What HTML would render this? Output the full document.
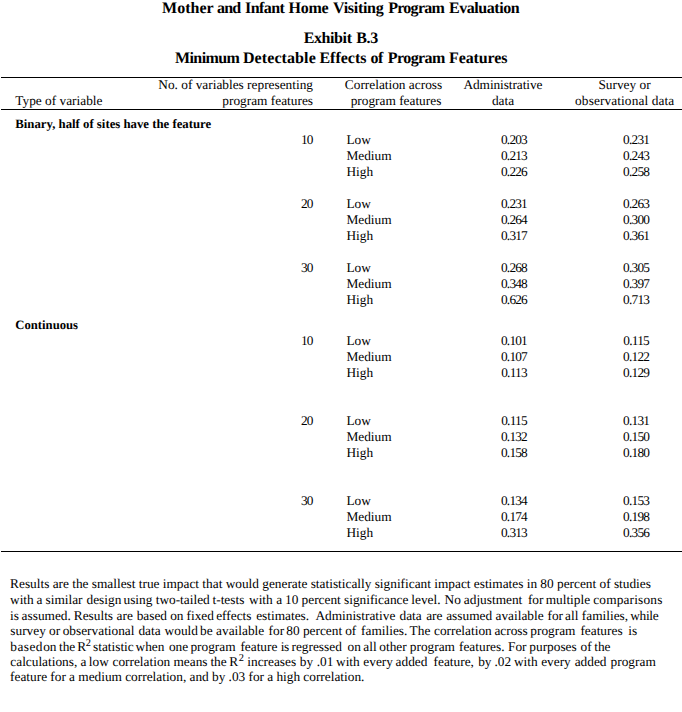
<!DOCTYPE html>
<html><head><meta charset="utf-8"><title>Exhibit B.3</title>
<style>
html,body{margin:0;padding:0;background:#fff;}
body{width:682px;height:712px;position:relative;overflow:hidden;font-family:"Liberation Serif",serif;color:#000;text-rendering:geometricPrecision;}
.t{position:absolute;white-space:pre;line-height:1;margin:0;padding:0;}
.b{font-weight:bold;}
.r{position:absolute;left:1px;width:681px;height:1px;background:#000;}
sup{font-size:9.3px;line-height:0;vertical-align:3.7px;}
</style></head><body>
<div class="r" style="top:77px"></div>
<div class="r" style="top:109px"></div>
<div class="r" style="top:551px"></div>
<div class="t b" style="top:0.60px;font-size:16px;left:162.1px;letter-spacing:0.0px;">Mother</div>
<div class="t b" style="top:0.60px;font-size:16px;left:217.0px;letter-spacing:-0.8px;">and</div>
<div class="t b" style="top:0.60px;font-size:16px;left:245.1px;letter-spacing:-0.57px;">Infant</div>
<div class="t b" style="top:0.60px;font-size:16px;left:288.6px;letter-spacing:-0.3px;">Home</div>
<div class="t b" style="top:0.60px;font-size:16px;left:333.0px;letter-spacing:-0.3px;">Visiting</div>
<div class="t b" style="top:0.60px;font-size:16px;left:388.2px;letter-spacing:-0.72px;">Program</div>
<div class="t b" style="top:0.60px;font-size:16px;left:449.0px;letter-spacing:-0.45px;">Evaluation</div>
<div class="t b" style="top:31.10px;font-size:16px;left:303.7px;letter-spacing:-0.4px;">Exhibit</div>
<div class="t b" style="top:31.10px;font-size:16px;left:356.2px;letter-spacing:-0.3px;">B.3</div>
<div class="t b" style="top:50.80px;font-size:16px;left:175.0px;letter-spacing:-0.6px;">Minimum</div>
<div class="t b" style="top:50.80px;font-size:16px;left:242.9px;letter-spacing:0.1px;">Detectable</div>
<div class="t b" style="top:50.80px;font-size:16px;left:319.4px;letter-spacing:0.0px;">Effects</div>
<div class="t b" style="top:50.80px;font-size:16px;left:370.6px;letter-spacing:-0.6px;">of</div>
<div class="t b" style="top:50.80px;font-size:16px;left:387.8px;letter-spacing:-0.58px;">Program</div>
<div class="t b" style="top:50.80px;font-size:16px;left:449.0px;letter-spacing:-0.12px;">Features</div>
<div class="t" style="top:77.84px;font-size:13.33px;right:369px;">No. of variables representing</div>
<div class="t" style="top:93.84px;font-size:13.33px;right:369px;">program features</div>
<div class="t" style="top:93.84px;font-size:13.33px;left:15.3px;">Type of variable</div>
<div class="t" style="top:77.84px;font-size:13.33px;left:93.5px;width:600px;text-align:center;">Correlation across</div>
<div class="t" style="top:93.84px;font-size:13.33px;left:96px;width:600px;text-align:center;">program features</div>
<div class="t" style="top:77.84px;font-size:13.33px;left:202.89999999999998px;width:600px;text-align:center;letter-spacing:-0.08px;">Administrative</div>
<div class="t" style="top:93.84px;font-size:13.33px;left:203px;width:600px;text-align:center;">data</div>
<div class="t" style="top:77.84px;font-size:13.33px;left:324.5px;width:600px;text-align:center;">Survey or</div>
<div class="t" style="top:93.84px;font-size:13.33px;left:324.70000000000005px;width:600px;text-align:center;letter-spacing:0.1px;">observational data</div>
<div class="t b" style="top:118.01px;font-size:12.77px;left:15.3px;">Binary, half of sites have the feature</div>
<div class="t b" style="top:319.06px;font-size:12.7px;left:15.3px;">Continuous</div>
<div class="t" style="top:132.84px;font-size:13.33px;right:369.4px;letter-spacing:-0.9px;">10</div>
<div class="t" style="top:132.84px;font-size:13.33px;left:346.4px;">Low</div>
<div class="t" style="top:132.84px;font-size:13.33px;left:214.0px;width:600px;text-align:center;letter-spacing:-0.8px;">0.203</div>
<div class="t" style="top:132.84px;font-size:13.33px;left:336.1px;width:600px;text-align:center;letter-spacing:-0.75px;">0.231</div>
<div class="t" style="top:148.84px;font-size:13.33px;left:346.4px;">Medium</div>
<div class="t" style="top:148.84px;font-size:13.33px;left:214.0px;width:600px;text-align:center;letter-spacing:-0.8px;">0.213</div>
<div class="t" style="top:148.84px;font-size:13.33px;left:336.1px;width:600px;text-align:center;letter-spacing:-0.75px;">0.243</div>
<div class="t" style="top:164.84px;font-size:13.33px;left:346.4px;">High</div>
<div class="t" style="top:164.84px;font-size:13.33px;left:214.0px;width:600px;text-align:center;letter-spacing:-0.8px;">0.226</div>
<div class="t" style="top:164.84px;font-size:13.33px;left:336.1px;width:600px;text-align:center;letter-spacing:-0.75px;">0.258</div>
<div class="t" style="top:196.84px;font-size:13.33px;right:369.4px;letter-spacing:-0.9px;">20</div>
<div class="t" style="top:196.84px;font-size:13.33px;left:346.4px;">Low</div>
<div class="t" style="top:196.84px;font-size:13.33px;left:214.0px;width:600px;text-align:center;letter-spacing:-0.8px;">0.231</div>
<div class="t" style="top:196.84px;font-size:13.33px;left:336.1px;width:600px;text-align:center;letter-spacing:-0.75px;">0.263</div>
<div class="t" style="top:212.84px;font-size:13.33px;left:346.4px;">Medium</div>
<div class="t" style="top:212.84px;font-size:13.33px;left:214.0px;width:600px;text-align:center;letter-spacing:-0.8px;">0.264</div>
<div class="t" style="top:212.84px;font-size:13.33px;left:336.1px;width:600px;text-align:center;letter-spacing:-0.75px;">0.300</div>
<div class="t" style="top:228.84px;font-size:13.33px;left:346.4px;">High</div>
<div class="t" style="top:228.84px;font-size:13.33px;left:214.0px;width:600px;text-align:center;letter-spacing:-0.8px;">0.317</div>
<div class="t" style="top:228.84px;font-size:13.33px;left:336.1px;width:600px;text-align:center;letter-spacing:-0.75px;">0.361</div>
<div class="t" style="top:260.84px;font-size:13.33px;right:369.4px;letter-spacing:-0.9px;">30</div>
<div class="t" style="top:260.84px;font-size:13.33px;left:346.4px;">Low</div>
<div class="t" style="top:260.84px;font-size:13.33px;left:214.0px;width:600px;text-align:center;letter-spacing:-0.8px;">0.268</div>
<div class="t" style="top:260.84px;font-size:13.33px;left:336.1px;width:600px;text-align:center;letter-spacing:-0.75px;">0.305</div>
<div class="t" style="top:276.84px;font-size:13.33px;left:346.4px;">Medium</div>
<div class="t" style="top:276.84px;font-size:13.33px;left:214.0px;width:600px;text-align:center;letter-spacing:-0.8px;">0.348</div>
<div class="t" style="top:276.84px;font-size:13.33px;left:336.1px;width:600px;text-align:center;letter-spacing:-0.75px;">0.397</div>
<div class="t" style="top:292.84px;font-size:13.33px;left:346.4px;">High</div>
<div class="t" style="top:292.84px;font-size:13.33px;left:214.0px;width:600px;text-align:center;letter-spacing:-0.8px;">0.626</div>
<div class="t" style="top:292.84px;font-size:13.33px;left:336.1px;width:600px;text-align:center;letter-spacing:-0.75px;">0.713</div>
<div class="t" style="top:333.84px;font-size:13.33px;right:369.4px;letter-spacing:-0.9px;">10</div>
<div class="t" style="top:333.84px;font-size:13.33px;left:346.4px;">Low</div>
<div class="t" style="top:333.84px;font-size:13.33px;left:214.0px;width:600px;text-align:center;letter-spacing:-0.8px;">0.101</div>
<div class="t" style="top:333.84px;font-size:13.33px;left:336.1px;width:600px;text-align:center;letter-spacing:-0.75px;">0.115</div>
<div class="t" style="top:349.84px;font-size:13.33px;left:346.4px;">Medium</div>
<div class="t" style="top:349.84px;font-size:13.33px;left:214.0px;width:600px;text-align:center;letter-spacing:-0.8px;">0.107</div>
<div class="t" style="top:349.84px;font-size:13.33px;left:336.1px;width:600px;text-align:center;letter-spacing:-0.75px;">0.122</div>
<div class="t" style="top:365.84px;font-size:13.33px;left:346.4px;">High</div>
<div class="t" style="top:365.84px;font-size:13.33px;left:214.0px;width:600px;text-align:center;letter-spacing:-0.8px;">0.113</div>
<div class="t" style="top:365.84px;font-size:13.33px;left:336.1px;width:600px;text-align:center;letter-spacing:-0.75px;">0.129</div>
<div class="t" style="top:413.84px;font-size:13.33px;right:369.4px;letter-spacing:-0.9px;">20</div>
<div class="t" style="top:413.84px;font-size:13.33px;left:346.4px;">Low</div>
<div class="t" style="top:413.84px;font-size:13.33px;left:214.0px;width:600px;text-align:center;letter-spacing:-0.8px;">0.115</div>
<div class="t" style="top:413.84px;font-size:13.33px;left:336.1px;width:600px;text-align:center;letter-spacing:-0.75px;">0.131</div>
<div class="t" style="top:429.84px;font-size:13.33px;left:346.4px;">Medium</div>
<div class="t" style="top:429.84px;font-size:13.33px;left:214.0px;width:600px;text-align:center;letter-spacing:-0.8px;">0.132</div>
<div class="t" style="top:429.84px;font-size:13.33px;left:336.1px;width:600px;text-align:center;letter-spacing:-0.75px;">0.150</div>
<div class="t" style="top:445.84px;font-size:13.33px;left:346.4px;">High</div>
<div class="t" style="top:445.84px;font-size:13.33px;left:214.0px;width:600px;text-align:center;letter-spacing:-0.8px;">0.158</div>
<div class="t" style="top:445.84px;font-size:13.33px;left:336.1px;width:600px;text-align:center;letter-spacing:-0.75px;">0.180</div>
<div class="t" style="top:493.84px;font-size:13.33px;right:369.4px;letter-spacing:-0.9px;">30</div>
<div class="t" style="top:493.84px;font-size:13.33px;left:346.4px;">Low</div>
<div class="t" style="top:493.84px;font-size:13.33px;left:214.0px;width:600px;text-align:center;letter-spacing:-0.8px;">0.134</div>
<div class="t" style="top:493.84px;font-size:13.33px;left:336.1px;width:600px;text-align:center;letter-spacing:-0.75px;">0.153</div>
<div class="t" style="top:509.84px;font-size:13.33px;left:346.4px;">Medium</div>
<div class="t" style="top:509.84px;font-size:13.33px;left:214.0px;width:600px;text-align:center;letter-spacing:-0.8px;">0.174</div>
<div class="t" style="top:509.84px;font-size:13.33px;left:336.1px;width:600px;text-align:center;letter-spacing:-0.75px;">0.198</div>
<div class="t" style="top:525.84px;font-size:13.33px;left:346.4px;">High</div>
<div class="t" style="top:525.84px;font-size:13.33px;left:214.0px;width:600px;text-align:center;letter-spacing:-0.8px;">0.313</div>
<div class="t" style="top:525.84px;font-size:13.33px;left:336.1px;width:600px;text-align:center;letter-spacing:-0.75px;">0.356</div>
<div class="t" style="top:576.84px;font-size:13.33px;left:10.1px;word-spacing:-0.035px;">Results are the smallest true impact that would generate statistically significant impact estimates in 80 percent of studies</div>
<div class="t" style="top:592.84px;font-size:13.33px;left:10.0px;">with</div>
<div class="t" style="top:592.84px;font-size:13.33px;left:36.6px;">a</div>
<div class="t" style="top:592.84px;font-size:13.33px;left:45.5px;">similar</div>
<div class="t" style="top:592.84px;font-size:13.33px;left:86.5px;">design</div>
<div class="t" style="top:592.84px;font-size:13.33px;left:123.5px;">using</div>
<div class="t" style="top:592.84px;font-size:13.33px;left:155.7px;">two-tailed</div>
<div class="t" style="top:592.84px;font-size:13.33px;left:212.5px;">t-tests</div>
<div class="t" style="top:592.84px;font-size:13.33px;left:249.0px;">with</div>
<div class="t" style="top:592.84px;font-size:13.33px;left:276.2px;">a</div>
<div class="t" style="top:592.84px;font-size:13.33px;left:285.1px;">10</div>
<div class="t" style="top:592.84px;font-size:13.33px;left:301.6px;">percent</div>
<div class="t" style="top:592.84px;font-size:13.33px;left:344.0px;">significance</div>
<div class="t" style="top:592.84px;font-size:13.33px;left:411.3px;">level.</div>
<div class="t" style="top:592.84px;font-size:13.33px;left:444.5px;">No</div>
<div class="t" style="top:592.84px;font-size:13.33px;left:463.8px;">adjustment</div>
<div class="t" style="top:592.84px;font-size:13.33px;left:527.9px;">for</div>
<div class="t" style="top:592.84px;font-size:13.33px;left:545.7px;">multiple</div>
<div class="t" style="top:592.84px;font-size:13.33px;left:593.2px;letter-spacing:0.18px;">comparisons</div>
<div class="t" style="top:608.84px;font-size:13.33px;left:10.0px;">is</div>
<div class="t" style="top:608.84px;font-size:13.33px;left:21.6px;">assumed.</div>
<div class="t" style="top:608.84px;font-size:13.33px;left:73.8px;">Results</div>
<div class="t" style="top:608.84px;font-size:13.33px;left:116.6px;">are</div>
<div class="t" style="top:608.84px;font-size:13.33px;left:136.7px;">based</div>
<div class="t" style="top:608.84px;font-size:13.33px;left:170.2px;">on</div>
<div class="t" style="top:608.84px;font-size:13.33px;left:186.5px;">fixed</div>
<div class="t" style="top:608.84px;font-size:13.33px;left:216.2px;">effects</div>
<div class="t" style="top:608.84px;font-size:13.33px;left:256.2px;">estimates.</div>
<div class="t" style="top:608.84px;font-size:13.33px;left:315.4px;">Administrative</div>
<div class="t" style="top:608.84px;font-size:13.33px;left:399.5px;">data</div>
<div class="t" style="top:608.84px;font-size:13.33px;left:426.2px;">are</div>
<div class="t" style="top:608.84px;font-size:13.33px;left:446.2px;">assumed</div>
<div class="t" style="top:608.84px;font-size:13.33px;left:495.5px;">available</div>
<div class="t" style="top:608.84px;font-size:13.33px;left:547.5px;">for</div>
<div class="t" style="top:608.84px;font-size:13.33px;left:565.1px;">all</div>
<div class="t" style="top:608.84px;font-size:13.33px;left:581.8px;">families,</div>
<div class="t" style="top:608.84px;font-size:13.33px;left:630.2px;letter-spacing:-0.3px;">while</div>
<div class="t" style="top:623.84px;font-size:13.33px;left:10.3px;">survey</div>
<div class="t" style="top:623.84px;font-size:13.33px;left:49.0px;">or</div>
<div class="t" style="top:623.84px;font-size:13.33px;left:62.7px;">observational</div>
<div class="t" style="top:623.84px;font-size:13.33px;left:138.4px;">data</div>
<div class="t" style="top:623.84px;font-size:13.33px;left:164.6px;">would</div>
<div class="t" style="top:623.84px;font-size:13.33px;left:200.1px;">be</div>
<div class="t" style="top:623.84px;font-size:13.33px;left:216.1px;">available</div>
<div class="t" style="top:623.84px;font-size:13.33px;left:268.6px;">for</div>
<div class="t" style="top:623.84px;font-size:13.33px;left:286.3px;">80</div>
<div class="t" style="top:623.84px;font-size:13.33px;left:302.9px;">percent</div>
<div class="t" style="top:623.84px;font-size:13.33px;left:345.2px;">of</div>
<div class="t" style="top:623.84px;font-size:13.33px;left:361.1px;">families.</div>
<div class="t" style="top:623.84px;font-size:13.33px;left:409.6px;">The</div>
<div class="t" style="top:623.84px;font-size:13.33px;left:434.0px;">correlation</div>
<div class="t" style="top:623.84px;font-size:13.33px;left:494.4px;">across</div>
<div class="t" style="top:623.84px;font-size:13.33px;left:530.3px;">program</div>
<div class="t" style="top:623.84px;font-size:13.33px;left:580.4px;">features</div>
<div class="t" style="top:623.84px;font-size:13.33px;left:628.2px;">is</div>
<div class="t" style="top:639.84px;font-size:13.33px;left:10.3px;letter-spacing:0.45px;">based</div>
<div class="t" style="top:639.84px;font-size:13.33px;left:43.2px;">on</div>
<div class="t" style="top:639.84px;font-size:13.33px;left:59.0px;">the</div>
<div class="t" style="top:639.84px;font-size:13.33px;left:77.3px;">R</div>
<div class="t" style="top:639.39px;font-size:10.4px;left:85.8px;">2</div>
<div class="t" style="top:639.84px;font-size:13.33px;left:93.0px;">statistic</div>
<div class="t" style="top:639.84px;font-size:13.33px;left:135.5px;">when</div>
<div class="t" style="top:639.84px;font-size:13.33px;left:168.9px;">one</div>
<div class="t" style="top:639.84px;font-size:13.33px;left:190.4px;">program</div>
<div class="t" style="top:639.84px;font-size:13.33px;left:240.4px;">feature</div>
<div class="t" style="top:639.84px;font-size:13.33px;left:280.8px;letter-spacing:-0.5px;">is</div>
<div class="t" style="top:639.84px;font-size:13.33px;left:291.5px;">regressed</div>
<div class="t" style="top:639.84px;font-size:13.33px;left:347.5px;">on</div>
<div class="t" style="top:639.84px;font-size:13.33px;left:363.3px;">all</div>
<div class="t" style="top:639.84px;font-size:13.33px;left:379.3px;">other</div>
<div class="t" style="top:639.84px;font-size:13.33px;left:409.8px;">program</div>
<div class="t" style="top:639.84px;font-size:13.33px;left:459.0px;">features.</div>
<div class="t" style="top:639.84px;font-size:13.33px;left:508.0px;">For</div>
<div class="t" style="top:639.84px;font-size:13.33px;left:529.3px;">purposes</div>
<div class="t" style="top:639.84px;font-size:13.33px;left:580.5px;">of</div>
<div class="t" style="top:639.84px;font-size:13.33px;left:594.2px;">the</div>
<div class="t" style="top:654.84px;font-size:13.33px;left:10.3px;">calculations,</div>
<div class="t" style="top:654.84px;font-size:13.33px;left:80.4px;">a</div>
<div class="t" style="top:654.84px;font-size:13.33px;left:88.8px;">low</div>
<div class="t" style="top:654.84px;font-size:13.33px;left:112.5px;">correlation</div>
<div class="t" style="top:654.84px;font-size:13.33px;left:173.5px;">means</div>
<div class="t" style="top:654.84px;font-size:13.33px;left:210.4px;">the</div>
<div class="t" style="top:654.84px;font-size:13.33px;left:229.3px;">R</div>
<div class="t" style="top:654.39px;font-size:10.4px;left:238.70000000000002px;">2</div>
<div class="t" style="top:654.84px;font-size:13.33px;left:247.3px;">increases</div>
<div class="t" style="top:654.84px;font-size:13.33px;left:299.8px;">by</div>
<div class="t" style="top:654.84px;font-size:13.33px;left:316.7px;">.01</div>
<div class="t" style="top:654.84px;font-size:13.33px;left:336.0px;">with</div>
<div class="t" style="top:654.84px;font-size:13.33px;left:363.3px;">every</div>
<div class="t" style="top:654.84px;font-size:13.33px;left:395.6px;">added</div>
<div class="t" style="top:654.84px;font-size:13.33px;left:433.6px;">feature,</div>
<div class="t" style="top:654.84px;font-size:13.33px;left:478.2px;">by</div>
<div class="t" style="top:654.84px;font-size:13.33px;left:494.5px;">.02</div>
<div class="t" style="top:654.84px;font-size:13.33px;left:513.9px;">with</div>
<div class="t" style="top:654.84px;font-size:13.33px;left:541.2px;">every</div>
<div class="t" style="top:654.84px;font-size:13.33px;left:574.7px;">added</div>
<div class="t" style="top:654.84px;font-size:13.33px;left:610.6px;">program</div>
<div class="t" style="top:669.84px;font-size:13.33px;left:10.1px;word-spacing:-0.09px;">feature for a medium correlation, and by .03 for a high correlation.</div>
</body></html>
